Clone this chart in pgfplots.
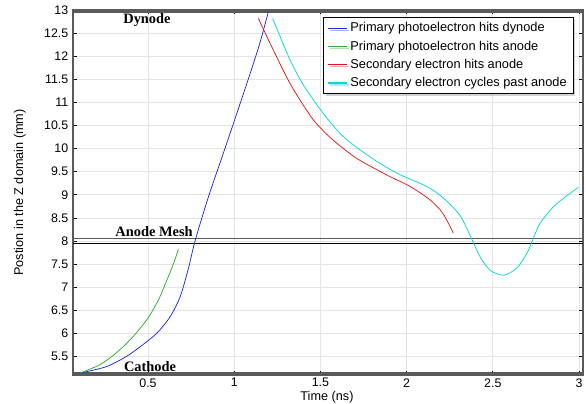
\documentclass[border=0pt]{standalone}
\usepackage{fontspec}
\setmainfont{Liberation Sans}
\newfontfamily\tnr{Liberation Serif}
\usepackage{pgfplots}
\pgfplotsset{compat=1.18}
\usetikzlibrary{shadows}

\definecolor{pblue}{RGB}{20,40,235}
\definecolor{pgreen}{RGB}{40,175,40}
\definecolor{pred}{RGB}{225,20,20}
\definecolor{pcyan}{RGB}{0,215,215}
\definecolor{gridgray}{RGB}{228,228,228}
\definecolor{framegray}{RGB}{90,90,90}

\begin{document}
\begin{tikzpicture}
\begin{axis}[
  name=ax,
  scale only axis,
  width=382.5pt, height=273.75pt,
  xmin=0.065, xmax=3.023,
  ymin=5.1, ymax=13,
  xtick={0.5,1,...,3},
  ytick={5.5,6,...,13},
  grid=major,
  major grid style={gridgray, line width=0.5pt},
  axis line style={framegray, line width=0.9pt},
  tick style={black, line width=0.5pt},
  major tick length=3pt,
  /pgf/number format/assume math mode=true,
  tick label style={font=\fontsize{9.3}{11}\selectfont},
  xticklabel style={yshift=1pt},
  label style={font=\fontsize{9.5}{11}\selectfont},
  xlabel={Time (ns)},
  ylabel={Postion in the Z domain (mm)},
  xlabel style={at={(axis description cs:0.498,-0.06)}, anchor=center},
  ylabel style={at={(axis description cs:-0.104,0.5)}, anchor=center},
  legend style={at={(0.982,0.981)}, anchor=north east,
    draw=black, line width=0.6pt, fill=white,
    drop shadow={shadow xshift=1.5pt, shadow yshift=-1.5pt, opacity=0.35},
    font=\fontsize{9.6}{11}\selectfont,
    row sep=1.2pt, inner xsep=3pt, inner ysep=2pt},
  legend cell align=left,
  legend image post style={line width=1pt},
  legend image code/.code={\draw[#1] (0pt,0pt) -- (14pt,0pt);},
  clip=false,
]
% electrode planes
\addplot[forget plot, framegray, line width=1pt] coordinates {(0.065,12.96) (3.023,12.96)};
\addplot[forget plot, framegray, line width=1pt] coordinates {(0.065,8.05) (3.023,8.05)};
\addplot[forget plot, black, line width=0.8pt] coordinates {(0.065,7.95) (3.023,7.95)};
\addplot[forget plot, framegray, line width=1pt] coordinates {(0.065,5.14) (3.023,5.14)};

% trajectories
\addplot[pblue, line width=0.55pt, smooth] coordinates {
 (0.104,5.14) (0.258,5.28) (0.374,5.50) (0.454,5.71) (0.55,6.0)
 (0.628,6.36) (0.686,6.79) (0.734,7.40) (0.773,8.0) (0.85,8.95)
 (0.937,9.90) (1.014,10.75) (1.092,11.62) (1.15,12.30) (1.198,12.96)};
\addlegendentry{Primary photoelectron hits dynode}

\addplot[pgreen, line width=0.55pt, smooth] coordinates {
 (0.104,5.14) (0.22,5.32) (0.31,5.56) (0.396,5.86) (0.492,6.29)
 (0.56,6.72) (0.608,7.14) (0.647,7.50) (0.676,7.82)};
\addlegendentry{Primary photoelectron hits anode}

\addplot[pred, line width=0.55pt, smooth] coordinates {
 (1.14,12.82) (1.208,12.28) (1.324,11.41) (1.44,10.72) (1.50,10.45)
 (1.575,10.18) (1.71,9.79) (1.885,9.43) (2.02,9.18) (2.136,8.89)
 (2.21,8.60) (2.271,8.17)};
\addlegendentry{Secondary electron hits anode}

\addplot[pcyan, line width=0.55pt, smooth] coordinates {
 (1.223,12.82) (1.26,12.48) (1.324,11.92) (1.401,11.38) (1.517,10.76)
 (1.633,10.26) (1.788,9.82) (1.943,9.47) (2.117,9.18) (2.21,8.94)
 (2.31,8.55) (2.378,8.04) (2.426,7.66) (2.484,7.37) (2.561,7.26)
 (2.638,7.41) (2.697,7.73) (2.731,8.02) (2.774,8.38) (2.851,8.74)
 (2.929,8.98) (2.996,9.16)};
\addlegendentry{Secondary electron cycles past anode}

% electrode names
\node[font=\tnr\bfseries\fontsize{10.8}{12}\selectfont, anchor=base] at (axis cs:0.494,12.70) {Dynode};
\node[font=\tnr\bfseries\fontsize{10.8}{12}\selectfont, anchor=south, inner ysep=1pt] at (axis cs:0.535,8.05) {Anode Mesh};
\node[font=\tnr\bfseries\fontsize{10.8}{12}\selectfont, anchor=south, inner ysep=1pt] at (axis cs:0.512,5.14) {Cathode};
\end{axis}
\pgfresetboundingbox
\useasboundingbox ([xshift=-54.75pt, yshift=-21.75pt]ax.south west) rectangle ([xshift=2.25pt, yshift=7.5pt]ax.north east);
\end{tikzpicture}
\end{document}
